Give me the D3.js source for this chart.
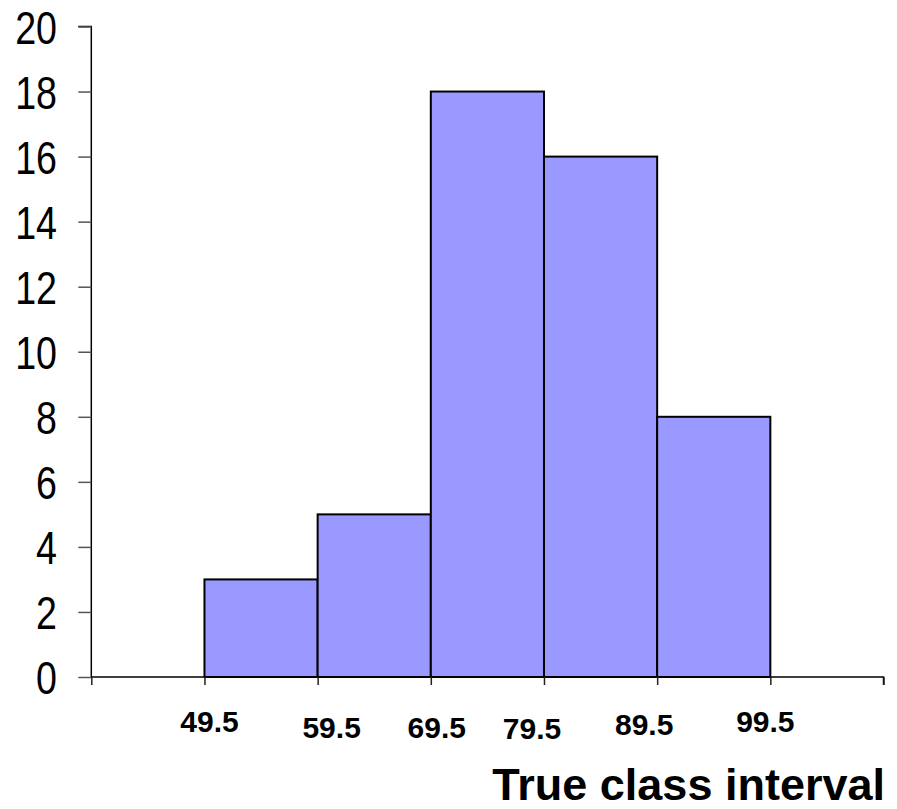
<!DOCTYPE html>
<html><head><meta charset="utf-8">
<script src="https://cdn.jsdelivr.net/npm/d3@7"></script>
<style>body{margin:0;background:#fff}svg{display:block}</style>
</head><body>
<svg id="c" width="897" height="809"></svg>
<script>
const binEdges = [49.5, 59.5, 69.5, 79.5, 89.5, 99.5];
const frequencies = [3, 5, 18, 16, 8];
const xLabels = ["49.5", "59.5", "69.5", "79.5", "89.5", "99.5"];
const yTicks = [0, 2, 4, 6, 8, 10, 12, 14, 16, 18, 20];
const xTicks = [39.5, 49.5, 59.5, 69.5, 79.5, 89.5, 99.5, 109.5];
const xTitle = "True class interval";

const svg = d3.select("#c");
const x = d3.scaleLinear().domain([39.5, 109.5]).range([91.3, 883.5]);
const y = d3.scaleLinear().domain([0, 20]).range([677, 26.5]);

// bars
const bins = frequencies.map((f, i) => ({x0: binEdges[i], x1: binEdges[i + 1], f}));
svg.append("g").selectAll("rect").data(bins).join("rect")
  .attr("x", d => x(d.x0)).attr("width", d => x(d.x1) - x(d.x0))
  .attr("y", d => y(d.f)).attr("height", d => y(0) - y(d.f))
  .attr("fill", "#9999ff").attr("stroke", "#000").attr("stroke-width", 2);

// y axis
const yAxis = d3.axisLeft(y).tickValues(yTicks).tickSize(13).tickFormat("");
const gy = svg.append("g").attr("transform", `translate(${x.range()[0]},0)`).call(yAxis);
gy.select(".domain").attr("stroke", "#000").attr("stroke-width", 1.5).attr("d", `M-13,${y(20)}H0V${y(0)}`);
gy.selectAll(".tick line").attr("stroke", "#555").attr("stroke-width", 1.5);
svg.append("g").selectAll("text").data(yTicks).join("text")
  .attr("transform", d => `translate(57,${y(d) + 17}) scale(0.8,1)`)
  .attr("text-anchor", "end")
  .style("font-family", "'Liberation Sans', Arial, sans-serif")
  .style("font-size", "47px").attr("fill", "#000")
  .text(d => d);

// x axis
const xAxis = d3.axisBottom(x).tickValues(xTicks).tickSize(8).tickFormat("");
const gx = svg.append("g").attr("transform", `translate(0,${y(0)})`).call(xAxis);
gx.select(".domain").attr("stroke", "#000").attr("stroke-width", 1.5).attr("d", `M${x.range()[0]},0H${x.range()[1]}V8`);
gx.selectAll(".tick line").attr("stroke", "#222").attr("stroke-width", 1.5);

// x labels (slightly irregular placement, as in the original slide)
const labelShift = [[5, 55], [14, 61], [6, 61], [-12, 62], [-13, 58], [-5, 55]];
svg.append("g").selectAll("text").data(xLabels).join("text")
  .attr("x", (d, i) => x(binEdges[i]) + labelShift[i][0])
  .attr("y", (d, i) => y(0) + labelShift[i][1])
  .attr("text-anchor", "middle")
  .style("font-family", "'Liberation Sans', Arial, sans-serif")
  .style("font-weight", "bold").style("font-size", "30px")
  .text(d => d);

svg.append("text").attr("x", 885).attr("y", 800).attr("text-anchor", "end")
  .style("font-family", "'Liberation Sans', Arial, sans-serif")
  .style("font-weight", "bold").style("font-size", "45px")
  .text(xTitle);
</script>
</body></html>
